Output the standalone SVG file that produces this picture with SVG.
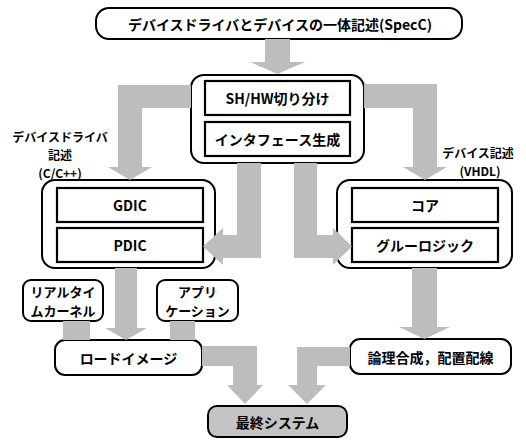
<svg xmlns="http://www.w3.org/2000/svg" width="526" height="440" viewBox="0 0 526 440">
<style>
.outer{fill:#fff;stroke:#000;stroke-width:2}
.inner{fill:#fff;stroke:#000;stroke-width:2.2}
.final{fill:#c4c4c4;stroke:#000;stroke-width:2}
.arrow{fill:#bdbdbd;stroke:none}
text{font-family:"Noto Sans CJK JP","Noto Sans",sans-serif;font-weight:bold;font-size:14px;fill:#000;text-anchor:middle;dominant-baseline:central}
.lbl{font-size:12px}
.two{font-size:13px}
</style>
<rect width="526" height="440" fill="#fff"/>
<g id="n-top"><rect class="outer" x="96" y="8" width="366" height="31" rx="13"/><text x="280" y="23.5">デバイスドライバとデバイスの一体記述(SpecC)</text></g>
<g id="n-mid"><rect class="outer" x="191" y="75" width="173" height="88" rx="13"/></g>
<g id="n-shhw"><rect class="inner" x="205" y="81" width="145" height="34"/><text x="277.5" y="98">SH/HW切り分け</text></g>
<g id="n-if"><rect class="inner" x="205" y="122" width="145" height="34"/><text x="277.5" y="139">インタフェース生成</text></g>
<g id="n-left"><rect class="outer" x="42" y="180" width="173" height="88" rx="13"/></g>
<g id="n-gdic"><rect class="inner" x="57" y="188" width="146" height="34"/><text x="130" y="205">GDIC</text></g>
<g id="n-pdic"><rect class="inner" x="57" y="228" width="146" height="34"/><text x="130" y="245">PDIC</text></g>
<g id="n-right"><rect class="outer" x="337" y="180" width="175" height="88" rx="13"/></g>
<g id="n-core"><rect class="inner" x="352" y="188" width="146" height="34"/><text x="425" y="205">コア</text></g>
<g id="n-glue"><rect class="inner" x="352" y="228" width="146" height="34"/><text x="425" y="245">グルーロジック</text></g>
<g id="n-rtk"><rect class="outer" x="23" y="280" width="80" height="41" rx="8"/><text class="two" x="63" y="291">リアルタイ</text><text class="two" x="63" y="310">ムカーネル</text></g>
<g id="n-app"><rect class="outer" x="157" y="280" width="81" height="41" rx="8"/><text class="two" x="197.5" y="291">アプリ</text><text class="two" x="197.5" y="310">ケーション</text></g>
<g id="n-load"><rect class="outer" x="55" y="340" width="147" height="35" rx="10"/><text x="128.5" y="358">ロードイメージ</text></g>
<g id="n-synth"><rect class="outer" x="350" y="339" width="161" height="35" rx="10"/><text x="430.5" y="357">論理合成，配置配線</text></g>
<g id="n-final"><rect class="final" x="208" y="406" width="139" height="31" rx="9"/><text x="277.5" y="422">最終システム</text></g>
<g id="labels">
<text class="lbl" x="60" y="136">デバイスドライバ</text>
<text class="lbl" x="60" y="154">記述</text>
<text class="lbl" x="60" y="172">(C/C++)</text>
<text class="lbl" x="478" y="152">デバイス記述</text>
<text class="lbl" x="480" y="170">(VHDL)</text>
</g>
<g id="connectors">
<path class="arrow" d="M265,39 H290 V62 H305 L277.5,74 L250,62 H265 Z"/>
<path class="arrow" d="M191,85 V108 H142 V167 H152 L130,180 L108,167 H118 V85 Z"/>
<path class="arrow" d="M364,84 H437 V167 H447 L425,180 L403,167 H413 V108 H364 Z"/>
<path class="arrow" d="M237,163 H261 V258 H223 V265 L203,246.5 L223,228 V235 H237 Z"/>
<path class="arrow" d="M294,163 H317 V235 H333 V228 L352,246.5 L333,265 V258 H294 Z"/>
<path class="arrow" d="M115,268 H137 V328 H147 L126,340 L105,328 H115 Z"/>
<rect class="arrow" x="63" y="321" width="27" height="19"/>
<rect class="arrow" x="170" y="321" width="25" height="19"/>
<path class="arrow" d="M412,268 H437 V327 H450 L424.5,339 L399,327 H412 Z"/>
<path class="arrow" d="M202,346 H257 V385 H263 L245,404 L227,385 H233 V366 H202 Z"/>
<path class="arrow" d="M350,347 V366 H317 V385 H326 L307,404 L288,385 H297 V347 Z"/>
</g>
</svg>
